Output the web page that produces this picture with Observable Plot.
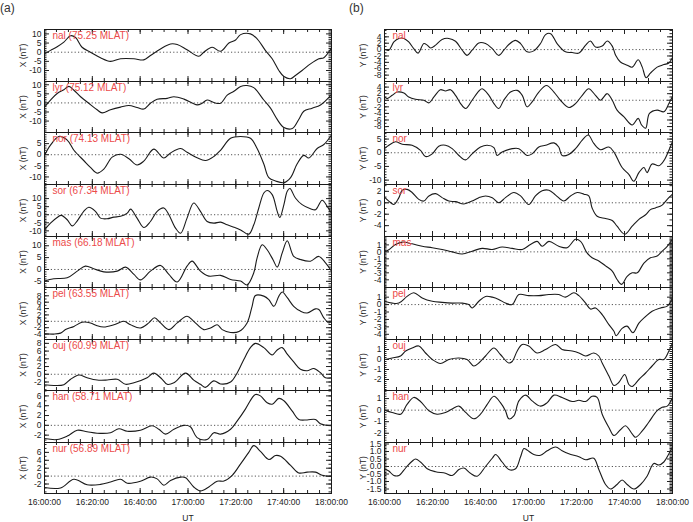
<!DOCTYPE html>
<html>
<head>
<meta charset="utf-8">
<script src="https://cdn.jsdelivr.net/npm/d3@7"></script>
<script src="https://cdn.jsdelivr.net/npm/@observablehq/plot@0.6"></script>
<style>
  body { margin: 0; background: #fff; }
  #chart { position: relative; width: 693px; height: 522px; overflow: hidden;
           font-family: "Liberation Sans", Arial, Helvetica, sans-serif; }
  #chart svg { position: absolute; overflow: visible; }
  .tag { position: absolute; font-size: 12px; color: #333; line-height: 1; }
</style>
</head>
<body>
<div id="chart"></div>
<script>
// Stations of the magnetometer chain and their magnetic latitudes
const stations = ["nal", "lyr", "nor", "sor", "mas", "pel", "ouj", "han", "nur"];
const mlat = ["75.25", "75.12", "74.13", "67.34", "66.18", "63.55", "60.99", "58.71", "56.89"];

// X component (nT); each point is [minutes after 16:00 UT, value]
const xNal = [[0,-0.9],[2.5,1],[5.3,3],[8.1,5.5],[10.9,9],[13,8],[15.7,2.7],[19.2,0],[23.4,-3],[27.6,-5],[31.8,-3.6],[37.4,-3.6],[41.5,-4.2],[44.3,-1.8],[48.5,1.8],[52.7,4.5],[55.5,4.2],[59.6,1.3],[64.5,-2.2],[66.6,0],[70.1,2.7],[73.6,0.5],[77.1,5],[79.9,6.7],[82,9.6],[86.1,10],[88.9,7.3],[92.4,0.9],[95.2,-3.6],[98,-10],[100.1,-13.3],[102.9,-14.5],[104.9,-12.7],[107.7,-10],[111.2,-6.4],[114.7,-3.6],[116.8,-3],[120,2.4]];
const xLyr = [[0,-2.3],[2.5,1.6],[5.3,5.2],[8.1,7.3],[10.2,9.1],[12.3,7],[15.1,3.4],[18.5,-0.2],[22,-3.8],[24.1,-5.5],[27.6,-3.8],[31.8,-2.3],[35.3,-1.4],[38.7,-2.5],[41.5,-3.4],[44.3,-0.2],[47.1,2],[51.3,2.5],[54.1,3.4],[58.3,2.1],[63.8,-1.1],[65.9,-0.2],[68,1.6],[70.8,0.2],[73.6,-0.2],[76.4,4.3],[79.2,6.4],[82,9.1],[84.7,9.6],[87.5,8.4],[91.7,1.6],[94.5,-2.9],[97.3,-9.1],[100.1,-13.6],[103.6,-14.1],[106.3,-9.1],[108.4,-4.6],[111.9,-2.9],[115.4,-1.1],[120,4.6]];
const xNor = [[0,-0.3],[2.5,4.3],[6,8.2],[9.5,6.6],[12.3,2],[16.4,-2.6],[19.2,-5.7],[22,-8.3],[24.8,-6.5],[28.3,-1.1],[31.8,0.2],[35.3,-1.8],[38.7,-4.6],[41.5,-2.9],[45.7,2.5],[49.9,-1.5],[52.7,0.8],[56.9,2.8],[59.6,1.1],[63.8,-1.4],[67.3,-2.6],[70.8,-0.8],[73.6,2],[77.8,7.4],[82,8.2],[86.1,7.4],[88.9,2.8],[91.7,-4.2],[93.8,-10.3],[96.6,-11.8],[100.1,-12.6],[102.9,-10.3],[105.6,-4.2],[108.4,-0.3],[110.5,-1.5],[114,2.8],[116.8,4.6],[120,8.9]];
const xSor = [[0,-9.4],[2.5,-5.2],[5.3,-1.7],[7,-0.4],[9.5,-3.1],[11.6,-6.9],[13.7,-3.75],[16.4,2.1],[18.5,4.6],[21.3,2.1],[23.4,-2.1],[26.2,-2.5],[29,-1.5],[31.8,-1],[34.6,1],[36,3.5],[38.7,-2.1],[41.5,-7.9],[44.3,-4.2],[47.1,2.1],[49.9,4.2],[52,0],[54.8,-8.3],[56.9,-11.5],[59.6,-2.1],[62.4,7.3],[65.2,2.1],[68,-4.2],[70.8,-5.2],[73.6,-4.6],[76.4,-6.25],[79.2,-7.7],[82,-9.4],[85.4,-12.1],[87.5,-6.25],[89.6,4.2],[91.7,13.5],[93.1,15],[95.2,12.5],[97.3,2.1],[98.4,-1.7],[100.1,6.25],[101.5,14.6],[102.6,16.25],[104.9,10.4],[107.7,6.25],[111.2,3.75],[113.3,3.1],[116.1,9],[118.2,5.2],[120,1]];
const xMas = [[0,-4.9],[3.9,-3.9],[9.5,-3.5],[13.7,-0.7],[17.1,1.4],[20.6,0.3],[24.8,-1],[30.4,-0.7],[33.9,1],[37.4,-2.1],[40.1,-4.4],[44.3,-0.7],[48.5,1.7],[52,-2.1],[55.5,-5.3],[59.6,1.4],[61.7,3.5],[65.2,-0.7],[68.7,-2.8],[73.6,-2.5],[77.8,-4.2],[82,-4.9],[84.7,-6.5],[87.5,-1.4],[88.9,4.9],[91,10.4],[93.1,8.3],[95.6,4],[97.3,1],[99.4,7],[101.5,12.1],[104.2,5.5],[107,4.2],[111.2,3.5],[114.7,5.5],[117.5,2.8],[120,-0.7]];
const xPel = [[0,-3.9],[3.9,-4],[6.7,-3.7],[8.8,-2.6],[12.3,-1.6],[15.7,-0.3],[19.2,-0.5],[22,-1.4],[24.8,-1.8],[29,-1.1],[33.2,0],[36,-1.1],[40.1,-2.1],[43.6,-0.5],[46,1.1],[48.5,-0.5],[52,-2.6],[55.5,-0.5],[59.6,1.6],[62.4,0],[66.6,-2.6],[69.4,-2.1],[72.2,-1.1],[74.3,-2.6],[77.8,-3.5],[81.3,-3.2],[84.7,-0.5],[86.8,4.7],[88.2,8.1],[91.7,7.9],[93.8,6.8],[95.9,4.7],[98,7.9],[99.4,9.2],[101.5,7.4],[104.2,4.7],[107,3.2],[109.8,2.6],[113.3,3.9],[114.7,3.7],[116.8,1.1],[118.9,-0.5],[120,0]];
const xOuj = [[0,-2.7],[3.9,-2.9],[8.1,-2.7],[10.9,-1.3],[14.4,-0.2],[17.8,-0.9],[22,-1.5],[26.2,-1.5],[30.4,-1.3],[33.9,-2.6],[37.4,-2.2],[42.9,-0.9],[45.7,0.3],[49.2,-1.3],[51.3,-2.6],[54.1,-2.2],[59,0.3],[62.4,-1.5],[65.2,-2.6],[67.3,-3.4],[70.8,-1.7],[73.6,-2.5],[77.8,-2],[80.6,0.4],[83.4,3.9],[86.1,6.9],[88.2,8],[91.7,6.9],[95.2,5],[97.3,6.3],[99.4,6.9],[101.5,5.2],[104.2,3.2],[107,1.3],[109.8,0.9],[112.6,1.5],[115.4,0.4],[117.5,-0.9],[120,-0.9]];
const xHan = [[0,-2.7],[5.3,-2.9],[9.5,-2.2],[13.7,-1],[17.8,-1.3],[22,-1.6],[27.6,-1.5],[31.1,-0.7],[34.6,-1.2],[40.1,-1],[45,-0.1],[47.8,-0.8],[50.6,-1.8],[54.1,-0.8],[58.3,0],[61,-0.3],[63.8,-2.5],[68,-2.9],[70.8,-1.5],[73.6,-1.8],[77.8,-0.8],[80.6,0.9],[84,3.3],[86.8,5.6],[88.2,6.3],[90.3,6],[93.1,4.6],[95.2,4.3],[98,5.5],[100.1,5],[103.6,2.9],[106.3,1.2],[109.8,1.1],[113.3,1.2],[115.4,0.3],[120,-0.1]];
const xNur = [[0,-2.9],[6.7,-3],[12.3,-0.8],[17.8,-2.2],[23.4,-2.1],[27.6,-1.5],[31.8,-0.8],[34.6,-1.8],[40.1,-1.3],[44.3,-0.25],[47.1,-0.7],[49.9,-2.3],[52.7,-1.1],[56.9,-0.25],[59,-0.4],[62.4,-2.75],[65.2,-3.75],[68.7,-2.75],[72.2,-1.3],[75,-1.25],[78.5,0.2],[82,3.1],[85.4,6],[87.5,7.7],[90.3,6.25],[93.8,4.2],[96.6,5.2],[98.7,5],[102.9,2.7],[106.3,0.8],[109.8,1],[113.3,1],[116.1,0.2],[120,-0.1]];

// Y component (nT)
const yNal = [[0,0.1],[1.8,-0.2],[3.9,2.4],[6,3.5],[8.1,3.5],[10.1,2.4],[12.2,0.3],[14,-1.1],[16.4,1.9],[17.8,1.4],[19.2,0.5],[21.3,1.4],[24,3.2],[26.8,3.5],[29.6,2.6],[32.4,-0.2],[34.4,-1.8],[36.5,-0.2],[39.3,2.1],[42.1,1.9],[44.9,0.3],[47.6,-1.8],[49.7,-0.2],[51.8,1.6],[54.6,2.9],[56.7,1.9],[59.4,-0.7],[62.2,-0.4],[65,1.9],[67.1,4.7],[69.2,5],[71.9,1.9],[75.4,-0.7],[78.2,-0.9],[81,-1.1],[83.8,1.4],[85.8,2.7],[87.9,0.8],[90.7,1.1],[92.8,2.7],[94.9,1.1],[96.3,-1.8],[98.3,-3.9],[101.1,-4.9],[103.2,-5.5],[105.7,-3.2],[107.4,-5.5],[109,-8.8],[110.8,-7.4],[113.6,-5.5],[116.4,-4.7],[118.5,-4.2],[120,-2.5]];
const yLyr = [[0,1],[1.1,0.5],[3.2,1.5],[5.3,2.5],[8.1,2.2],[10.1,1],[12.9,0.3],[16.4,0],[18.5,-0.8],[20.6,1],[23.3,3.2],[25.4,2.8],[27.5,3.2],[29.6,1.5],[31.7,-1],[33.8,-2.5],[36.5,0],[39.3,2.8],[40.7,3.5],[43.5,1.5],[45.6,-1],[47.6,-2.5],[49.7,0],[52.5,2.5],[55.3,3],[57.4,1.5],[59.4,-2],[61.5,-0.5],[64.3,2.5],[67.5,4.5],[70.6,2.5],[73.3,0],[76.8,-2.2],[79.6,-1],[82.4,1.5],[85.1,3.5],[87.9,1.5],[90,0],[92.8,2],[94.9,0],[96.9,-3],[99.7,-5],[103.2,-7.5],[105.7,-5.5],[107.1,-7.5],[108.8,-8.5],[110.4,-4],[113.6,-3],[116.4,-3.5],[118.5,-1],[120,1.2]];
const yNor = [[0,1.5],[1.8,2.75],[4.6,4],[7.4,3.1],[11.5,2.75],[15,0.9],[17.1,-1.4],[19.9,-0.4],[22.6,2.4],[25.4,2.75],[28.2,1.5],[31,-1],[33.8,-2.6],[36.5,-0.4],[40,2.1],[42.8,2.75],[45.6,1.9],[46.9,-1],[49,0.25],[53.2,1.5],[56,1.5],[59.4,-1],[61.5,-0.4],[64.3,2.1],[67.1,2.75],[70.6,3.6],[72.6,2.1],[74,-1],[76.8,-0.6],[79.6,1.5],[82.4,4.6],[84.9,6.5],[87.2,3.4],[90,1.1],[93.5,2.1],[95.6,0.25],[99,-5.4],[101.8,-7.9],[103.9,-10.4],[106,-7.25],[108.1,-5.4],[109.4,-7.25],[111.5,-4.1],[114.3,-4.75],[116.4,-2.9],[118.5,0.9],[120,4]];
const ySor = [[0,1],[1.8,0.3],[3.9,-0.3],[6,0.9],[7.4,2.2],[9.4,2.35],[11.5,1.8],[14.3,0.6],[16.4,0.3],[18.5,1.2],[21.3,1.6],[24,0.9],[26.8,0.3],[29.6,0.2],[33.1,-0.2],[36.5,0.3],[39.3,0.9],[42.1,1.2],[44.9,0.9],[47.6,0],[50.4,0.9],[53.9,1.8],[56.7,1.2],[60.1,-0.3],[62.9,1.2],[65.7,2.1],[68.5,2.2],[71.3,1.35],[74.7,0.3],[77.5,1.2],[80.3,1.8],[83.1,1.5],[85.1,1.2],[86.5,-0.9],[88.6,-2.35],[92.1,-2.75],[94.9,-3.1],[96.9,-4.1],[100.1,-5.5],[103.2,-4.1],[106,-2.9],[108.8,-2.1],[110.8,-1.2],[112.9,-0.9],[115.7,-0.4],[117.8,0.6],[120,1.5]];
const yMas = [[0,0],[1.8,0.3],[4.6,1.05],[7.4,1.4],[11.5,1.15],[15.7,0.8],[19.9,0.6],[24,0.35],[28.2,0],[32.4,-0.3],[36.5,0.1],[40.7,0.5],[44.9,0.35],[49,0.7],[53.2,0.5],[57.4,0.35],[60.8,1.05],[63.6,1.5],[65.7,0.8],[68.5,1.5],[72.6,0.8],[76.1,0.6],[79.6,1.8],[81.7,1.5],[84.4,-0.15],[86.5,-0.85],[89.3,-1.3],[92.1,-2],[94.9,-2.75],[96.9,-3.95],[98.8,-4.65],[101.1,-3.5],[103.2,-3],[105.3,-3],[108.1,-1.6],[110.8,-0.85],[113.6,-0.6],[115.7,0.1],[117.8,0.8],[120,1.8]];
const yPel = [[0,0.45],[3.2,0.2],[6,0.2],[9.4,1.1],[12.2,1.6],[15.7,0.9],[19.9,0.45],[24,0.3],[28.2,0.2],[32.4,0.2],[35.1,0],[36.5,-0.45],[39.3,0.45],[42.1,1.1],[44.9,1],[47.6,0.7],[50.4,0.2],[53.2,0],[56,1.35],[60.1,1.2],[64.3,1.2],[68.5,1.35],[72.6,1.35],[75.4,1],[78.9,1.6],[81,1.2],[83.8,0.2],[85.8,-0.6],[87.9,-0.45],[90.7,-1.35],[93.5,-2.7],[95.6,-3.6],[96.5,-4.2],[99,-3.2],[101.1,-2.9],[103.5,-3.8],[106,-2.5],[108.8,-1.6],[111.5,-0.9],[115,-0.45],[117.8,-0.2],[120,0.9]];
const yOuj = [[0,0],[3.2,0.15],[6.7,0.35],[8.8,0.85],[11.5,1.15],[14.3,1.35],[17.1,0.65],[19.9,0],[23.3,-0.4],[26.8,0],[31,0.15],[34.4,0],[37.2,-0.65],[39.3,-0.35],[42.1,0.35],[45.6,1.15],[48.3,0.5],[51.8,-0.35],[53.2,-0.2],[55.3,0.85],[57.4,1.5],[60.1,1.35],[63.6,0.65],[67.1,1],[71.3,1.5],[74,1],[78.2,0.85],[81,0.65],[83.8,0.35],[87.2,0.65],[89.3,0.35],[90.7,-0.35],[93.5,-1.65],[95.6,-2.6],[97.6,-2.3],[100.1,-1.5],[101.8,-2.5],[103.2,-2.7],[106,-2],[108.8,-1.35],[111.5,-0.65],[114.3,0],[116.4,0],[118.5,0.85],[120,1.65]];
const yHan = [[0,0],[3.2,-0.2],[6.7,-0.35],[9.4,0.5],[12.2,1.1],[15,0.75],[18.5,-0.05],[21.9,-0.35],[25.4,-0.2],[28.2,0.1],[31,0.35],[33.8,-0.2],[37.2,-0.75],[40,-0.35],[42.8,0.5],[45.6,1.2],[48.3,0.65],[50.4,-0.05],[51.8,-0.75],[53.9,-0.5],[56,0.8],[58.8,1.3],[61.5,0.8],[65,0.35],[67.8,0.65],[70.6,1.3],[74,1.1],[78.2,0.75],[81,0.85],[83.8,0.75],[86.5,1.2],[88.6,1.1],[90.7,-0.35],[93.5,-1.5],[95.6,-2.2],[98.3,-1.7],[100.4,-1.35],[103.2,-2.05],[104.6,-2.35],[107.4,-1.8],[110.1,-1.05],[113.6,-0.05],[115.7,0.25],[117.8,0.35],[120,1.1]];
const yNur = [[0,-0.15],[1.8,-0.3],[3.9,-0.6],[6,-0.6],[8.8,-0.1],[11.5,0.35],[12.9,0.5],[15,0.3],[17.8,-0.15],[21.3,-0.35],[25.4,-0.45],[28.2,-0.6],[31,-0.2],[33.1,-0.1],[35.8,-0.45],[38.6,-0.65],[42.1,0],[44.9,0.55],[46.3,0.8],[49,0.3],[51.8,-0.2],[54.6,-0.15],[56.7,0.65],[58.1,1.2],[59.4,1.1],[62.2,0.8],[65,0.75],[67.8,1.05],[71.3,1.3],[74,1.05],[76.8,0.85],[81,0.65],[83.8,0.45],[87.2,0.55],[89.3,-0.2],[92.1,-1.2],[94.2,-1.5],[96.9,-1.2],[99,-0.9],[101.1,-1.2],[103.9,-1.5],[106.7,-1.2],[109.4,-0.65],[112.2,0.2],[114.3,0.1],[116.4,0.3],[118.5,0.85],[120,1.3]];

// Y-axis tick values of each panel
const xTickVals = [[10,5,0,-5,-10],[10,5,0,-5,-10],[5,0,-5,-10],[10,5,0,-5,-10],[10,5,0,-5],[8,6,4,2,0,-2,-4],[8,6,4,2,0,-2],[6,4,2,0,-2],[6,4,2,0,-2]];
const yTickVals = [[4,2,0,-2,-4,-6,-8],[4,2,0,-2,-4,-6,-8],[5,0,-5,-10],[2,0,-2,-4],[1,0,-1,-2,-3,-4],[1,0,-1,-2,-3,-4],[1,0,-1,-2],[1,0,-1,-2],[1.5,1.0,0.5,0.0,-0.5,-1.0,-1.5]];

// Y-axis extents of each panel
const xDomains = [[-16,12.4],[-16.3,11.8],[-13.4,10],[-13.5,18.75],[-7.6,13.9],[-5.7,10.6],[-4.2,9],[-3.5,7.1],[-4.4,8.5]];
const yDomains = [[-10,6.3],[-9.8,5.7],[-11.6,7.4],[-5.9,3.2],[-5.1,2.2],[-4.7,2.3],[-3.1,2],[-2.8,1.7],[-1.8,1.6]];

// Time axis (UT)
const T0 = Date.UTC(2000, 0, 1, 16, 0, 0);
const at = m => new Date(T0 + m * 60000);
const utMajor = d3.range(0, 121, 20).map(at);
const utMinor = d3.range(0, 121, 5).map(at);

const FONT = "'Liberation Sans', Arial, Helvetica, sans-serif";
const tops = d3.range(10).map(i => Math.round(29.3 + i * 51.55));

const columns = [
  { left: 0, width: 345, mL: 44, mR: 14, comp: "X (nT)", series: [xNal, xLyr, xNor, xSor, xMas, xPel, xOuj, xHan, xNur],
    ticks: xTickVals, domains: xDomains, name: i => `${stations[i]} (${mlat[i]} MLAT)` },
  { left: 344, width: 349, mL: 40, mR: 21, comp: "Y (nT)", series: [yNal, yLyr, yNor, ySor, yMas, yPel, yOuj, yHan, yNur],
    ticks: yTickVals, domains: yDomains, name: i => stations[i] }
];

const chart = document.getElementById("chart");

function minorStep(ticks) {
  const step = Math.abs(ticks[0] - ticks[1]);
  return step === 2 ? 1 : step / 5;
}

function panel(col, i) {
  const last = i === 8;
  const H = tops[i + 1] - tops[i];
  const W = col.width - col.mL - col.mR;
  const ticks = col.ticks[i];
  const dom = col.domains[i];
  const ms = minorStep(ticks);
  const minor = d3.range(Math.ceil(dom[0] / ms) * ms, dom[1], ms).map(v => +v.toFixed(3));
  const fmt = col === columns[1] && i === 8 ? (d => d.toFixed(1)) : (d => String(d));
  const mB = last ? 30 : 0;
  const marks = [
    Plot.ruleY([0], { stroke: "#555", strokeDasharray: "1.2,2.2", strokeWidth: 1 }),
    Plot.line(col.series[i], { x: d => at(d[0]), y: d => d[1], stroke: "#1a1a1a", strokeWidth: 1.1, curve: "catmull-rom" }),
    // inward ticks on all four sides
    Plot.tickY(ticks, { insetRight: W - 5, stroke: "#222" }),
    Plot.tickY(ticks, { insetLeft: W - 5, stroke: "#222" }),
    Plot.tickY(minor, { insetRight: W - 2.5, stroke: "#222" }),
    Plot.tickY(minor, { insetLeft: W - 2.5, stroke: "#222" }),
    Plot.tickX(utMajor, { insetBottom: H - 5, stroke: "#222" }),
    Plot.tickX(utMajor, { insetTop: H - 5, stroke: "#222" }),
    Plot.tickX(utMinor, { insetBottom: H - 3, stroke: "#222" }),
    Plot.tickX(utMinor, { insetTop: H - 3, stroke: "#222" }),
    Plot.frame({ stroke: "#1a1a1a" }),
    Plot.text([col.name(i)], { frameAnchor: "top-left", dx: 8, dy: 2.5, lineAnchor: "top", textAnchor: "start",
                               fill: "#ec4a4a", fontSize: 10 }),
    Plot.axisY(ticks, { tickSize: 0, tickPadding: 3, tickFormat: fmt, fontSize: 8.5,
                        label: col.comp, labelAnchor: "center", labelOffset: 25, labelArrow: "none" })
  ];
  if (last) {
    marks.push(Plot.axisX(utMajor, { tickSize: 0, tickPadding: 5, tickFormat: d3.utcFormat("%H:%M:%S"), fontSize: 8.5,
                                     label: "UT", labelAnchor: "center", labelOffset: 27, labelArrow: "none" }));
  }
  const svg = Plot.plot({
    width: col.width,
    height: H + mB,
    marginLeft: col.mL, marginRight: col.mR, marginTop: 0, marginBottom: mB,
    x: { type: "utc", domain: [at(0), at(120)], axis: null },
    y: { domain: dom, axis: null },
    style: { fontFamily: FONT, fontSize: "8.5px", color: "#222", background: "transparent", overflow: "visible" },
    marks
  });
  svg.style.left = col.left + "px";
  svg.style.top = tops[i] + "px";
  chart.appendChild(svg);
}

columns.forEach(col => d3.range(9).forEach(i => panel(col, i)));

// Panel letters
for (const [txt, x] of [["(a)", 0], ["(b)", 349]]) {
  const d = document.createElement("div");
  d.className = "tag";
  d.textContent = txt;
  d.style.left = x + "px";
  d.style.top = "2px";
  chart.appendChild(d);
}
</script>
</body>
</html>
